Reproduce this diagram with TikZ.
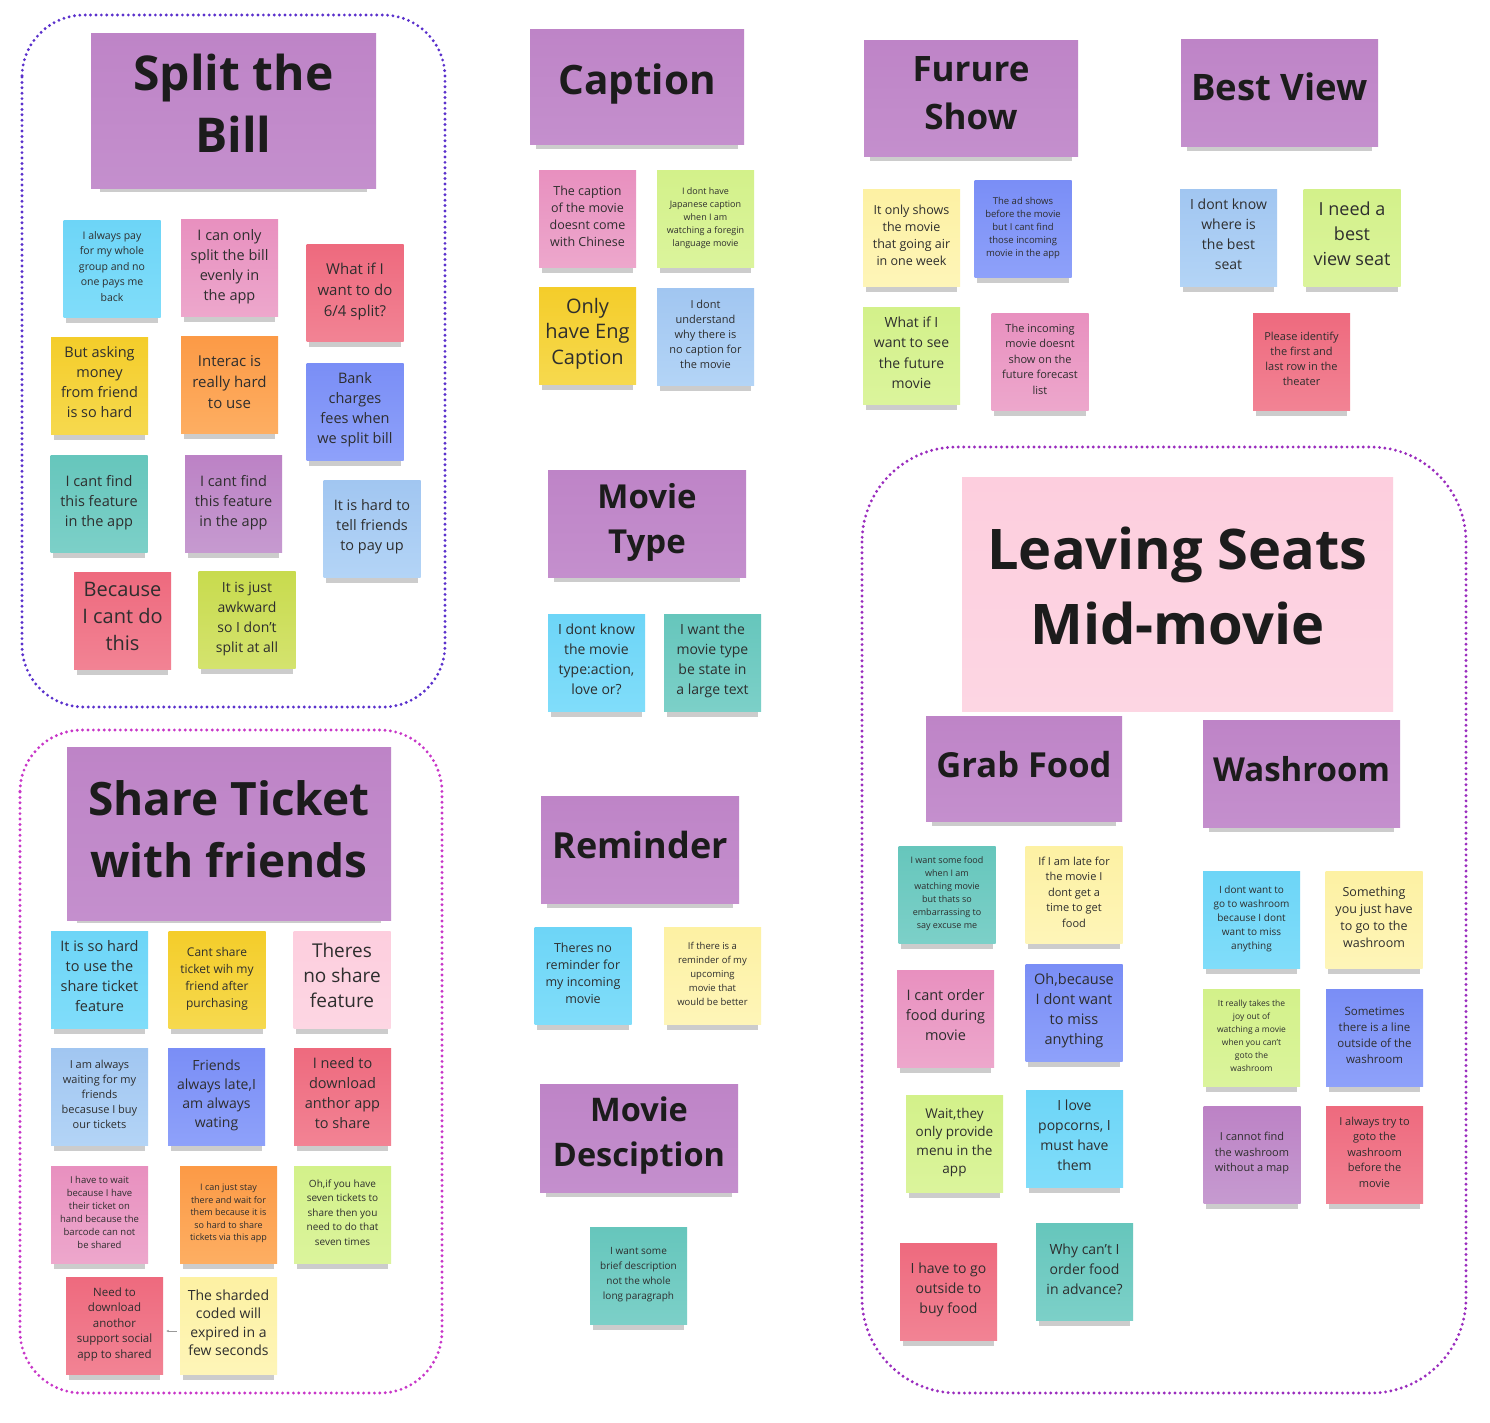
\documentclass[tikz,border=0pt]{standalone}
\usepackage{fontspec}
\setmainfont{Open Sans}
\usetikzlibrary{shadows,arrows.meta}
\definecolor{cCyan}{HTML}{6DD5F7}\definecolor{cCyanB}{HTML}{80DDFA}
\definecolor{cPink}{HTML}{E890BF}\definecolor{cPinkB}{HTML}{EDA7CC}
\definecolor{cRed}{HTML}{EE6A7E}\definecolor{cRedB}{HTML}{F28394}
\definecolor{cYellow}{HTML}{F4CD2A}\definecolor{cYellowB}{HTML}{F6D94E}
\definecolor{cOrange}{HTML}{FC9A46}\definecolor{cOrangeB}{HTML}{FDAE62}
\definecolor{cViolet}{HTML}{7A8EF6}\definecolor{cVioletB}{HTML}{8EA1FA}
\definecolor{cTeal}{HTML}{66C6BC}\definecolor{cTealB}{HTML}{7CD0C8}
\definecolor{cPurple}{HTML}{BC82C5}\definecolor{cPurpleB}{HTML}{C69AD0}
\definecolor{cLBlue}{HTML}{A1C6F1}\definecolor{cLBlueB}{HTML}{B3D4F6}
\definecolor{cLime}{HTML}{C8DB4E}\definecolor{cLimeB}{HTML}{D4E36E}
\definecolor{cLGreen}{HTML}{D3F18A}\definecolor{cLGreenB}{HTML}{DBF49C}
\definecolor{cLYellow}{HTML}{FDF1A3}\definecolor{cLYellowB}{HTML}{FEF5B8}
\definecolor{cLPink}{HTML}{FDCEDE}\definecolor{cLPinkB}{HTML}{FDD6E3}
\definecolor{cTitle}{HTML}{BE84C7}\definecolor{cTitleB}{HTML}{C48FCD}
\definecolor{ink}{HTML}{2E2E2E}
\definecolor{titleink}{HTML}{1C1C1C}
\definecolor{frameA}{HTML}{5A30CC}
\definecolor{frameB}{HTML}{C836C8}
\definecolor{frameC}{HTML}{9A2CBE}
\begin{document}
\begin{tikzpicture}[x=1pt,y=-1pt,
  note/.style={minimum width=97pt, minimum height=97pt, inner sep=0pt, align=center, text=ink,
    execute at end node={\rule[-0.42em]{0pt}{0.42em}},
    general shadow={shadow scale=0.94, shadow yshift=-9pt, opacity=0.2, fill=black}},
  f/.style 2 args={font=\fontsize{#1pt}{#2pt}\selectfont},
  tf/.style 2 args={font=\fontsize{#1pt}{#2pt}\selectfont\bfseries},
  heading/.style={note, top color=cTitle, bottom color=cTitleB},
  htext/.style={inner sep=0pt, align=center, text=titleink},
  ncyan/.style={top color=cCyan, bottom color=cCyanB},
  npink/.style={top color=cPink, bottom color=cPinkB},
  nred/.style={top color=cRed, bottom color=cRedB},
  nyellow/.style={top color=cYellow, bottom color=cYellowB},
  norange/.style={top color=cOrange, bottom color=cOrangeB},
  nviolet/.style={top color=cViolet, bottom color=cVioletB},
  nteal/.style={top color=cTeal, bottom color=cTealB},
  npurple/.style={top color=cPurple, bottom color=cPurpleB},
  nlblue/.style={top color=cLBlue, bottom color=cLBlueB},
  nlime/.style={top color=cLime, bottom color=cLimeB},
  nlgreen/.style={top color=cLGreen, bottom color=cLGreenB},
  nlyellow/.style={top color=cLYellow, bottom color=cLYellowB},
  nlpink/.style={top color=cLPink, bottom color=cLPinkB},
  frame/.style={line width=3.2pt, dash pattern=on 0pt off 5.4pt, line cap=round}
]
\useasboundingbox (0,0) rectangle (1490,1422);
\fill[white] (0,0) rectangle (1490,1422);

% group frames
\draw[frame, draw=frameA, rounded corners=62pt] (22,15) rectangle (445,707);
\draw[frame, draw=frameB, rounded corners=62pt] (20,730) rectangle (442,1393);
\draw[frame, draw=frameC, rounded corners=95pt] (862,447) rectangle (1466,1393);

% ---------- Split the Bill ----------
\node[heading, minimum width=285pt, minimum height=155pt] (splitT) at (233.5,110.5) {};
\node[htext, tf={48}{62}] (splitTx) at ([yshift=7pt]splitT.center) {Split the\\Bill};
\node[note, ncyan, f={10.5}{15.5}] (s1) at (112,268.5) {I always pay\\for my whole\\group and no\\one pays me\\back};
\node[note, npink, f={14.5}{20}] (s2) at (229.5,268) {I can only\\split the bill\\evenly in\\the app};
\node[note, nred, f={15}{21}] (s3) at (355,293) {What if I\\want to do\\6/4 split?};
\node[note, nyellow, f={14.5}{20}] (s4) at (99.5,385.5) {But asking\\money\\from friend\\is so hard};
\node[note, norange, f={15}{21}] (s5) at (229.5,385) {Interac is\\really hard\\to use};
\node[note, nviolet, f={14.5}{20}] (s6) at (355,411.5) {Bank\\charges\\fees when\\we split bill};
\node[note, nteal, f={14.5}{20}] (s7) at (99,503.5) {I cant find\\this feature\\in the app};
\node[note, npurple, f={14.5}{20}] (s8) at (233.5,503.5) {I cant find\\this feature\\in the app};
\node[note, nlblue, f={14.5}{20}] (s9) at (372,528.5) {It is hard to\\tell friends\\to pay up};
\node[note, nred, f={20}{27}] (s10) at (122.5,621) {Because\\I cant do\\this};
\node[note, nlime, f={14}{20}] (s11) at (247,620) {It is just\\awkward\\so I don't\\split at all};

% ---------- Caption ----------
\node[heading, minimum width=214pt, minimum height=115pt] (capT) at (637,86.5) {};
\node[htext, tf={40.5}{50}] (capTx) at ([yshift=3pt]capT.center) {Caption};
\node[note, npink, f={12.5}{17}] (c1) at (587.5,218.5) {The caption\\of the movie\\doesnt come\\with Chinese};
\node[note, nlgreen, f={9}{13}] (c2) at (705.5,218.5) {I dont have\\Japanese caption\\when I am\\watching a foregin\\language movie};
\node[note, nyellow, f={20}{25.5}] (c3) at (587.5,335.5) {Only\\have Eng\\Caption};
\node[note, nlblue, f={11}{15}] (c4) at (705.5,336.5) {I dont\\understand\\why there is\\no caption for\\the movie};

% ---------- Movie Type ----------
\node[heading, minimum width=198pt, minimum height=107pt] (typeT) at (647,523.5) {};
\node[htext, tf={33}{45}] (typeTx) at ([yshift=1pt]typeT.center) {Movie\\Type};
\node[note, ncyan, f={14}{20}] (m1) at (596.5,662.5) {I dont know\\the movie\\type:action,\\love or?};
\node[note, nteal, f={14}{20}] (m2) at (712.5,662.5) {I want the\\movie type\\be state in\\a large text};

% ---------- Reminder ----------
\node[heading, minimum width=198pt, minimum height=107pt] (remT) at (640,849.5) {};
\node[htext, tf={36}{45}] (remTx) at ([yshift=5pt]remT.center) {Reminder};
\node[note, ncyan, f={12.5}{17}] (r1) at (583,975.5) {Theres no\\reminder for\\my incoming\\movie};
\node[note, nlyellow, f={9.5}{14}] (r2) at (712.5,975.5) {If there is a\\reminder of my\\upcoming\\movie that\\would be better};

% ---------- Movie Desciption ----------
\node[heading, minimum width=198pt, minimum height=108pt] (descT) at (639,1138) {};
\node[htext, tf={32.5}{45}] (descTx) at ([yshift=2pt]descT.center) {Movie\\Desciption};
\node[note, nteal, f={10}{15}] (d1) at (638.5,1276) {I want some\\brief description\\not the whole\\long paragraph};

% ---------- Furure Show ----------
\node[heading, minimum width=214pt, minimum height=116pt] (futT) at (971,98) {};
\node[htext, tf={35}{48}] (futTx) at ([yshift=5pt]futT.center) {Furure\\Show};
\node[note, nlyellow, f={12.5}{17}] (f1) at (911.5,237.5) {It only shows\\the movie\\that going air\\in one week};
\node[note, nviolet, f={9.5}{13}] (f2) at (1023,229) {The ad shows\\before the movie\\but I cant find\\those incoming\\movie in the app};
\node[note, nlgreen, f={14}{20.5}] (f3) at (911.5,355.5) {What if I\\want to see\\the future\\movie};
\node[note, npink, f={11}{15.5}] (f4) at (1040,361.5) {The incoming\\movie doesnt\\show on the\\future forecast\\list};

% ---------- Best View ----------
\node[heading, minimum width=197pt, minimum height=107pt] (bestT) at (1279.5,92.5) {};
\node[htext, tf={36.5}{45}] (bestTx) at ([yshift=6pt]bestT.center) {Best View};
\node[note, nlblue, f={14}{20}] (b1) at (1228.5,237.5) {I dont know\\where is\\the best\\seat};
\node[note, nlgreen, f={18}{25}] (b2) at (1352,237.5) {I need a\\best\\view seat};
\node[note, nred, f={11}{15}] (b3) at (1301.5,361.5) {Please identify\\the first and\\last row in the\\theater};

% ---------- Share Ticket with friends ----------
\node[heading, minimum width=324pt, minimum height=173pt] (shareT) at (229,833.5) {};
\node[htext, tf={46}{62}] (shareTx) at ([yshift=4pt]shareT.center) {Share Ticket\\with friends};
\node[note, ncyan, f={14.5}{20}] (t1) at (99.5,979.5) {It is so hard\\to use the\\share ticket\\feature};
\node[note, nyellow, f={12}{17}] (t2) at (217,979.5) {Cant share\\ticket wih my\\friend after\\purchasing};
\node[note, nlpink, f={19}{25}] (t3) at (342,979.5) {Theres\\no share\\feature};
\node[note, nlblue, f={11}{15}] (t4) at (99.5,1097) {I am always\\waiting for my\\friends\\becasuse I buy\\our tickets};
\node[note, nviolet, f={14}{19}] (t5) at (216.5,1097) {Friends\\always late,I\\am always\\wating};
\node[note, nred, f={14.5}{20}] (t6) at (342.5,1096.5) {I need to\\download\\anthor app\\to share};
\node[note, npink, f={9.5}{13}] (t7) at (99.5,1214.5) {I have to wait\\because I have\\their ticket on\\hand because the\\barcode can not\\be shared};
\node[note, norange, f={9}{12.5}] (t8) at (228.5,1214.5) {I can just stay\\there and wait for\\them because it is\\so hard to share\\tickets via this app};
\node[note, nlgreen, f={10}{14.5}] (t9) at (342.5,1214.5) {Oh,if you have\\seven tickets to\\share then you\\need to do that\\seven times};
\node[note, nred, f={11.5}{15.5}] (t10) at (114.5,1325.5) {Need to\\download\\anothor\\support social\\app to shared};
\node[note, nlyellow, f={14}{18.5}] (t11) at (228.5,1325.5) {The sharded\\coded will\\expired in a\\few seconds};
\draw[draw=gray!80, line width=0.6pt, -{Latex[length=2.5pt,width=2.5pt]}, shorten <=3pt, shorten >=3pt]
  ([yshift=-5.5pt]t11.west) -- ([yshift=-5.5pt]t10.east);

% ---------- Leaving Seats Mid-movie ----------
\node[note, nlpink, minimum width=431pt, minimum height=234pt] (leaveT) at (1177.5,594) {};
\node[htext, tf={56}{75}] (leaveTx) at ([yshift=8pt]leaveT.center) {Leaving Seats\\Mid-movie};
\node[heading, minimum width=196pt, minimum height=105pt] (foodT) at (1024,768.5) {};
\node[htext, tf={34.5}{45}] (foodTx) at ([yshift=4pt]foodT.center) {Grab Food};
\node[heading, minimum width=197pt, minimum height=107pt] (washT) at (1301.5,773.5) {};
\node[htext, tf={33}{45}] (washTx) at ([yshift=4pt]washT.center) {Washroom};

\node[note, nteal, f={9}{13}] (g1) at (947,894.5) {I want some food\\when I am\\watching movie\\but thats so\\embarrassing to\\say excuse me};
\node[note, nlyellow, f={11}{15.5}] (g2) at (1074,894.5) {If I am late for\\the movie I\\dont get a\\time to get\\food};
\node[note, npink, f={14.5}{20}] (g3) at (945.5,1018.5) {I cant order\\food during\\movie};
\node[note, nviolet, f={14.5}{20}] (g4) at (1074,1012.5) {Oh,because\\I dont want\\to miss\\anything};
\node[note, nlgreen, f={13.5}{18.5}] (g5) at (954.5,1143.5) {Wait,they\\only provide\\menu in the\\app};
\node[note, ncyan, f={14}{20}] (g6) at (1074.5,1138.5) {I love\\popcorns, I\\must have\\them};
\node[note, nred, f={14}{20}] (g7) at (948.5,1291.5) {I have to go\\outside to\\buy food};
\node[note, nteal, f={14}{20}] (g8) at (1084.5,1272) {Why can't I\\order food\\in advance?};

\node[note, ncyan, f={10}{14}] (w1) at (1251.5,920) {I dont want to\\go to washroom\\because I dont\\want to miss\\anything};
\node[note, nlyellow, f={12.5}{17}] (w2) at (1374,920) {Something\\you just have\\to go to the\\washroom};
\node[note, nlgreen, f={8.5}{13}] (w3) at (1251.5,1038) {It really takes the\\joy out of\\watching a movie\\when you can't\\goto the\\washroom};
\node[note, nviolet, f={11.5}{16}] (w4) at (1374.5,1038) {Sometimes\\there is a line\\outside of the\\washroom};
\node[note, npurple, f={11}{15.5}] (w5) at (1252,1154.5) {I cannot find\\the washroom\\without a map};
\node[note, nred, f={11}{15.5}] (w6) at (1374.5,1154.5) {I always try to\\goto the\\washroom\\before the\\movie};
\end{tikzpicture}
\end{document}
